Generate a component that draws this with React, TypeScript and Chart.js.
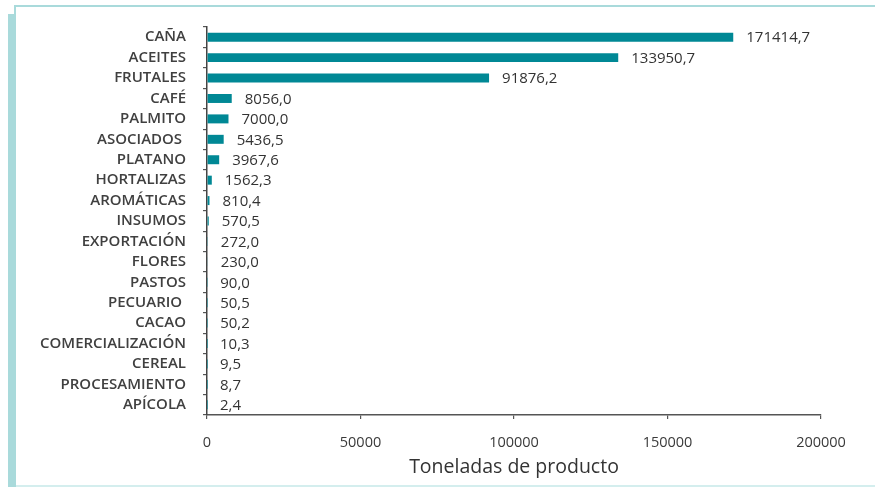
import React, { useEffect, useRef } from "react";
import { Chart, registerables } from "chart.js";

Chart.register(...registerables);

const categories: string[] = [
  "CAÑA",
  "ACEITES",
  "FRUTALES",
  "CAFÉ",
  "PALMITO",
  "ASOCIADOS ",
  "PLATANO",
  "HORTALIZAS",
  "AROMÁTICAS",
  "INSUMOS",
  "EXPORTACIÓN",
  "FLORES",
  "PASTOS",
  "PECUARIO ",
  "CACAO",
  "COMERCIALIZACIÓN",
  "CEREAL",
  "PROCESAMIENTO",
  "APÍCOLA",
];

const values: number[] = [
  171414.7, 133950.7, 91876.2, 8056.0, 7000.0, 5436.5, 3967.6, 1562.3, 810.4,
  570.5, 272.0, 230.0, 90.0, 50.5, 50.2, 10.3, 9.5, 8.7, 2.4,
];

const xTicks: number[] = [0, 50000, 100000, 150000, 200000];
const axisTitle = "Toneladas de producto";

const BAR_COLOR = "#008895";
const FRAME_COLOR = "#a9dadb";
const FONT = "'Open Sans', 'DejaVu Sans', sans-serif";

const fmt = (v: number) => v.toFixed(1).replace(".", ",");

const valueLabelPlugin = {
  id: "valueLabels",
  afterDatasetsDraw(chart: any) {
    const ctx = chart.ctx;
    const meta = chart.getDatasetMeta(0);
    ctx.save();
    ctx.font = `400 15px ${FONT}`;
    ctx.fillStyle = "#333333";
    ctx.textAlign = "left";
    ctx.textBaseline = "middle";
    meta.data.forEach((bar: any, i: number) => {
      ctx.fillText(fmt(values[i]), bar.x + 13, bar.y + 1);
    });
    ctx.restore();
  },
};

export default function App() {
  const canvasRef = useRef<HTMLCanvasElement | null>(null);

  useEffect(() => {
    document.body.style.margin = "0";
    const canvas = canvasRef.current;
    if (!canvas) return;
    const chart = new Chart(canvas, {
      type: "bar",
      data: {
        labels: categories,
        datasets: [
          {
            data: values,
            backgroundColor: BAR_COLOR,
            borderWidth: 0,
            barPercentage: 0.44,
            categoryPercentage: 1,
          },
        ],
      },
      options: {
        indexAxis: "y",
        animation: false,
        responsive: false,
        maintainAspectRatio: false,
        devicePixelRatio: 1,
        layout: { padding: { left: 0, right: 54, top: 27, bottom: 0 } },
        plugins: {
          legend: { display: false },
          tooltip: { enabled: false },
          title: { display: false },
        },
        scales: {
          x: {
            type: "linear",
            position: "bottom",
            min: 0,
            max: 200000,
            afterBuildTicks: (scale: any) => {
              scale.ticks = xTicks.map((v) => ({ value: v }));
            },
            afterFit: (scale: any) => {
              scale.height = 72;
            },
            grid: {
              drawOnChartArea: false,
              drawTicks: true,
              tickLength: 4,
              color: "#555555",
              lineWidth: 1.2,
            },
            border: { display: true, color: "#555555", width: 1.5 },
            ticks: {
              padding: 15,
              color: "#3a3a3a",
              font: { family: FONT, size: 14.5, weight: "normal" },
              callback: (v: any) => String(v),
              maxRotation: 0,
            },
            title: {
              display: true,
              text: axisTitle,
              color: "#333333",
              font: { family: FONT, size: 19.5, weight: "normal" },
              padding: { top: 0, bottom: 8 },
            },
          },
          y: {
            type: "category",
            afterFit: (scale: any) => {
              scale.width = 207;
            },
            grid: {
              drawOnChartArea: false,
              drawTicks: true,
              tickLength: 4,
              color: "#555555",
              lineWidth: 1.2,
              offset: true,
            },
            border: { display: true, color: "#444444", width: 1.5 },
            ticks: {
              padding: 17,
              color: "#404040",
              font: { family: FONT, size: 15, weight: "600" },
              autoSkip: false,
            },
          },
        },
      },
      plugins: [valueLabelPlugin],
    });
    return () => chart.destroy();
  }, []);

  return (
    <div
      style={{
        position: "absolute",
        left: 0,
        top: 0,
        width: 875,
        height: 487,
        background: "#ffffff",
        overflow: "hidden",
      }}
    >
      <div
        style={{
          position: "absolute",
          left: 14,
          top: 5,
          width: 861,
          height: 1.5,
          background: FRAME_COLOR,
        }}
      />
      <div
        style={{
          position: "absolute",
          left: 14,
          top: 5,
          width: 1.5,
          height: 10,
          background: FRAME_COLOR,
        }}
      />
      <div
        style={{
          position: "absolute",
          left: 8,
          top: 14,
          width: 8,
          height: 473,
          background: FRAME_COLOR,
        }}
      />
      <div
        style={{
          position: "absolute",
          left: 16,
          top: 485,
          width: 859,
          height: 1.5,
          background: "#d4eeee",
        }}
      />
      <canvas
        ref={canvasRef}
        width={875}
        height={487}
        style={{ position: "absolute", left: 0, top: 0, width: 875, height: 487 }}
      />
    </div>
  );
}
